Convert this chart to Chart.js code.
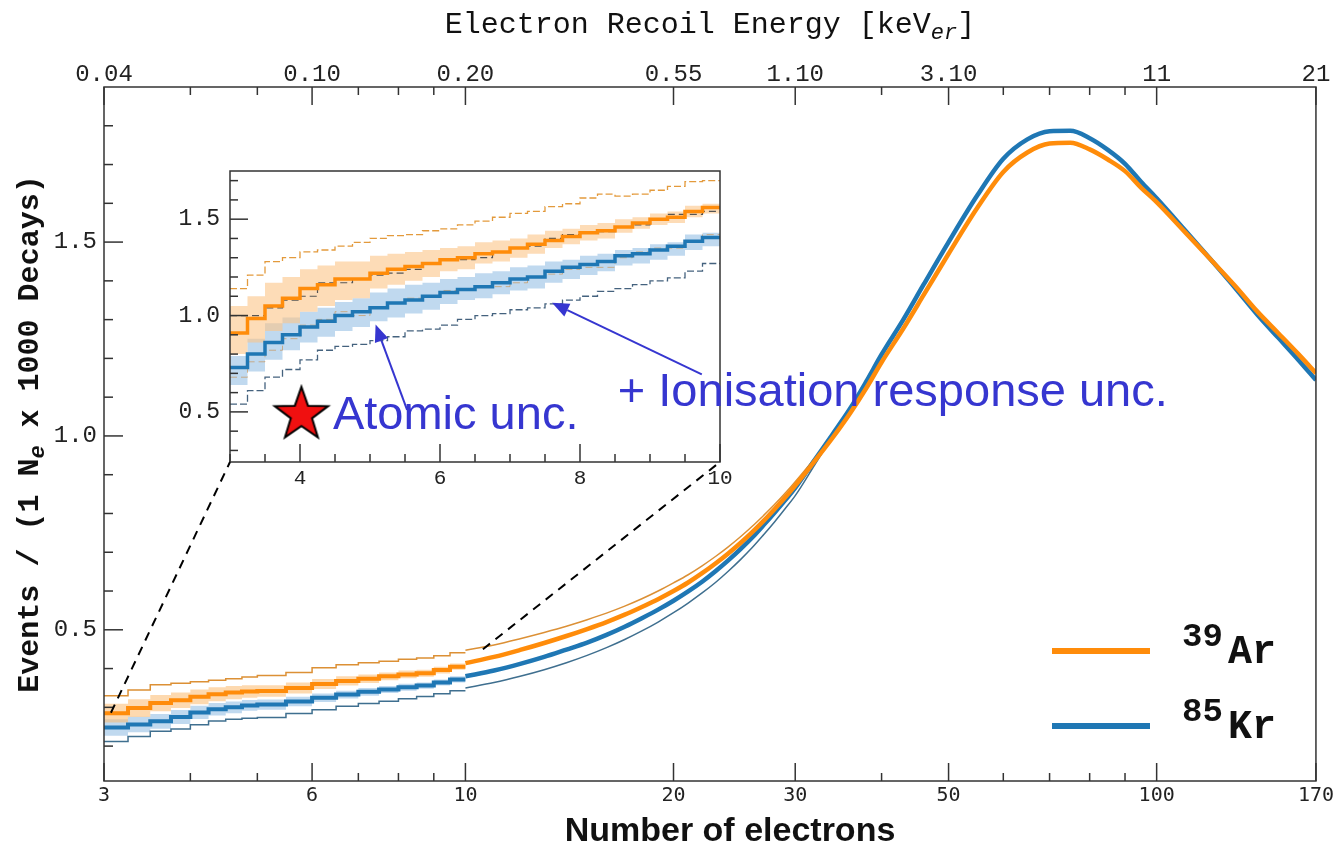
<!DOCTYPE html>
<html>
<head>
<meta charset="utf-8">
<script src="https://cdn.jsdelivr.net/npm/chart.js@4/dist/chart.umd.min.js"></script>
<style>
  body { margin: 0; background: #fff; }
  #wrap { position: relative; width: 1339px; height: 851px; }
  #wrap canvas { position: absolute; left: 0; top: 0; }
</style>
</head>
<body>
<div id="wrap">
  <canvas id="main" width="1339" height="851"></canvas>
  <canvas id="inset" width="1339" height="851"></canvas>
</div>
<script>
// axis ticks
const neMajor = [3, 6, 10, 20, 30, 50, 100, 170];
const neTicks = [3, 4, 5, 6, 7, 8, 9, 10, 20, 30, 40, 50, 60, 70, 80, 90, 100, 170];
const energyLabels = ['0.04', '0.10', '0.20', '0.55', '1.10', '3.10', '11', '21'];
const yMajor = [0.5, 1.0, 1.5];
const insetXMajor = [4, 6, 8, 10];

// main plot, 3-10 electrons: bin left edges (last value = right edge of last bin)
const lowEdges = [3, 3.25, 3.5, 3.75, 4, 4.25, 4.5, 4.75, 5, 5.5, 6, 6.5, 7, 7.5, 8, 8.5, 9, 9.5, 10];
const arLow = [0.285, 0.298, 0.311, 0.318, 0.327, 0.334, 0.338, 0.341, 0.342, 0.350, 0.360, 0.368, 0.374, 0.380, 0.385, 0.388, 0.396, 0.405];
const krLow = [0.248, 0.256, 0.264, 0.275, 0.287, 0.295, 0.300, 0.305, 0.307, 0.315, 0.325, 0.333, 0.340, 0.346, 0.352, 0.356, 0.364, 0.372];
const arOuterLow = [0.330, 0.345, 0.358, 0.362, 0.366, 0.370, 0.374, 0.378, 0.382, 0.390, 0.402, 0.410, 0.415, 0.419, 0.424, 0.427, 0.433, 0.441];
const krOuterLow = [0.212, 0.225, 0.238, 0.244, 0.255, 0.265, 0.269, 0.272, 0.274, 0.284, 0.294, 0.303, 0.310, 0.316, 0.322, 0.328, 0.335, 0.343];
const arBandHalf = [0.024, 0.023, 0.021, 0.020, 0.019, 0.018, 0.017, 0.016, 0.015, 0.014, 0.013, 0.012, 0.011, 0.010, 0.010, 0.009, 0.009, 0.008];
const krBandHalf = [0.021, 0.020, 0.019, 0.018, 0.017, 0.016, 0.015, 0.014, 0.013, 0.012, 0.011, 0.010, 0.010, 0.009, 0.009, 0.008, 0.008, 0.008];

// main plot, 10-170 electrons
const curveNe = [10, 11, 12, 13, 14, 15, 16, 17, 18, 19, 20, 21, 22, 23, 24, 25, 26, 27, 28, 29, 30,
  32, 34, 36, 38, 40, 43, 46, 50, 55, 60, 65, 70, 75, 80, 85, 90, 95, 100, 110, 120, 130, 140, 150, 160, 170];
const arCurve = [0.414, 0.430, 0.448, 0.466, 0.484, 0.502, 0.520, 0.539, 0.559, 0.579, 0.600, 0.622, 0.646, 0.671, 0.697, 0.724, 0.752, 0.781, 0.811, 0.841, 0.872,
  0.935, 0.996, 1.058, 1.123, 1.190, 1.277, 1.363, 1.470, 1.588, 1.681, 1.731, 1.754, 1.756, 1.739, 1.713, 1.683, 1.640, 1.603, 1.525, 1.453, 1.386, 1.320, 1.265, 1.213, 1.162];
const krCurve = [0.380, 0.395, 0.412, 0.430, 0.449, 0.467, 0.487, 0.508, 0.530, 0.552, 0.575, 0.599, 0.624, 0.651, 0.679, 0.708, 0.738, 0.770, 0.802, 0.834, 0.866,
  0.938, 1.005, 1.070, 1.140, 1.210, 1.300, 1.390, 1.500, 1.620, 1.715, 1.765, 1.786, 1.787, 1.768, 1.738, 1.702, 1.655, 1.613, 1.530, 1.453, 1.381, 1.312, 1.253, 1.198, 1.144];
const outerNe = [10, 11, 12, 13, 14, 15, 16, 17, 18, 19, 20, 21, 22, 23, 24, 25, 26, 27, 28, 29, 30, 32, 34];
const arOuterMid = [0.447, 0.461, 0.477, 0.493, 0.509, 0.526, 0.543, 0.561, 0.580, 0.600, 0.621, 0.642, 0.665, 0.689, 0.714, 0.740, 0.767, 0.795, 0.823, 0.852, 0.882, 0.942, 1.000];
const krOuterMid = [0.350, 0.364, 0.380, 0.397, 0.415, 0.434, 0.454, 0.475, 0.497, 0.520, 0.544, 0.569, 0.595, 0.622, 0.651, 0.681, 0.712, 0.745, 0.778, 0.812, 0.846, 0.925, 1.000];

// inset (3 - 10 electrons)
const insetEdges = [3, 3.25, 3.5, 3.75, 4, 4.25, 4.5, 4.75, 5, 5.25, 5.5, 5.75, 6, 6.25, 6.5, 6.75, 7, 7.25, 7.5, 7.75,
  8, 8.25, 8.5, 8.75, 9, 9.25, 9.5, 9.75, 10];
const insetAr = [0.91, 0.985, 1.05, 1.09, 1.14, 1.16, 1.19, 1.19, 1.22, 1.24, 1.255, 1.27, 1.29, 1.30, 1.32, 1.33,
  1.35, 1.37, 1.39, 1.41, 1.43, 1.44, 1.46, 1.48, 1.50, 1.51, 1.54, 1.56];
const insetKr = [0.73, 0.80, 0.86, 0.90, 0.94, 0.97, 1.00, 1.02, 1.04, 1.065, 1.08, 1.10, 1.12, 1.135, 1.15, 1.17,
  1.19, 1.20, 1.23, 1.25, 1.265, 1.28, 1.31, 1.32, 1.34, 1.36, 1.385, 1.405];
const insetArBandHi = [1.05, 1.10, 1.17, 1.20, 1.24, 1.26, 1.28, 1.28, 1.31, 1.32, 1.33, 1.34, 1.35, 1.36, 1.38, 1.39,
  1.40, 1.42, 1.44, 1.45, 1.47, 1.48, 1.50, 1.51, 1.53, 1.54, 1.57, 1.58];
const insetArBandLo = [0.80, 0.86, 0.92, 0.96, 1.02, 1.05, 1.08, 1.09, 1.14, 1.16, 1.18, 1.20, 1.23, 1.24, 1.27, 1.28,
  1.30, 1.32, 1.35, 1.37, 1.39, 1.40, 1.43, 1.45, 1.47, 1.48, 1.51, 1.53];
const insetKrBandHi = [0.79, 0.88, 0.96, 0.99, 1.02, 1.04, 1.07, 1.09, 1.12, 1.14, 1.16, 1.17, 1.19, 1.20, 1.22, 1.23,
  1.25, 1.26, 1.28, 1.29, 1.31, 1.32, 1.34, 1.35, 1.37, 1.38, 1.42, 1.43];
const insetKrBandLo = [0.64, 0.71, 0.77, 0.82, 0.86, 0.89, 0.92, 0.94, 0.97, 0.99, 1.01, 1.03, 1.06, 1.08, 1.09, 1.11,
  1.13, 1.14, 1.17, 1.19, 1.21, 1.23, 1.26, 1.27, 1.29, 1.31, 1.34, 1.36];
const insetArOuterHi = [1.14, 1.21, 1.28, 1.30, 1.33, 1.34, 1.36, 1.38, 1.40, 1.415, 1.42, 1.44, 1.45, 1.47, 1.49, 1.51,
  1.53, 1.54, 1.565, 1.58, 1.61, 1.63, 1.62, 1.63, 1.65, 1.67, 1.695, 1.70];
const insetArOuterLo = [0.68, 0.76, 0.82, 0.88, 0.95, 0.98, 1.02, 1.00, 1.04, 1.065, 1.09, 1.10, 1.13, 1.13, 1.15, 1.15,
  1.17, 1.20, 1.215, 1.24, 1.25, 1.25, 1.30, 1.33, 1.35, 1.35, 1.385, 1.42];
const insetKrOuterHi = [1.00, 1.00, 1.04, 1.08, 1.10, 1.17, 1.17, 1.19, 1.21, 1.22, 1.24, 1.27, 1.29, 1.29, 1.30, 1.33,
  1.35, 1.36, 1.40, 1.42, 1.43, 1.435, 1.46, 1.47, 1.50, 1.525, 1.525, 1.54];
const insetKrOuterLo = [0.54, 0.61, 0.68, 0.72, 0.77, 0.82, 0.84, 0.85, 0.87, 0.89, 0.92, 0.93, 0.95, 0.98, 1.00, 1.01,
  1.03, 1.04, 1.06, 1.08, 1.10, 1.125, 1.14, 1.16, 1.18, 1.195, 1.23, 1.27];

// annotations (data coordinates)
const starPoint = [4.02, 0.485];
const atomicArrow = [[5.53, 0.51], [5.08, 0.953]];
const ionArrow = [[9.74, 0.695], [7.6, 1.066]];
const atomicText = [4.47, 0.41];
const ionText = [8.54, 0.53];
const zoomFrom = [[3.07, 0.286], [10.6, 0.45]];

const ORANGE = '#ff8c0a';
const BLUE = '#1f77b4';
const NOTE = '#3636d0';
const MONO = '"Liberation Mono", "Courier New", monospace';

function steps(edges, vals) {
  const pts = vals.map((v, i) => ({ x: edges[i], y: v }));
  pts.push({ x: edges[vals.length], y: vals[vals.length - 1] });
  return pts;
}
function shifted(vals, half, sign) {
  return vals.map((v, i) => v + sign * half[i]);
}
function points(xs, ys) {
  return ys.map((v, i) => ({ x: xs[i], y: v }));
}
function line(ctx, x1, y1, x2, y2) {
  ctx.beginPath(); ctx.moveTo(x1, y1); ctx.lineTo(x2, y2); ctx.stroke();
}
function runs(ctx, parts, x, y) {
  let total = 0;
  parts.forEach(p => { ctx.font = p.font; p.w = ctx.measureText(p.text).width; total += p.w; });
  let cx = x - total / 2;
  parts.forEach(p => { ctx.font = p.font; ctx.fillText(p.text, cx, y + (p.dy || 0)); cx += p.w; });
}
function arrow(ctx, x1, y1, x2, y2) {
  const ang = Math.atan2(y2 - y1, x2 - x1), L = 17, W = 7;
  const bx = x2 - L * Math.cos(ang), by = y2 - L * Math.sin(ang);
  ctx.lineWidth = 2;
  line(ctx, x1, y1, bx, by);
  ctx.beginPath();
  ctx.moveTo(x2, y2);
  ctx.lineTo(bx + W * Math.sin(ang), by - W * Math.cos(ang));
  ctx.lineTo(bx - W * Math.sin(ang), by + W * Math.cos(ang));
  ctx.closePath();
  ctx.fill();
}
function makeStar(r) {
  const c = document.createElement('canvas');
  const s = Math.ceil(r * 2 + 6);
  c.width = s; c.height = s;
  const g = c.getContext('2d');
  g.beginPath();
  for (let i = 0; i < 10; i++) {
    const rad = i % 2 === 0 ? r : r * 0.4;
    const a = -Math.PI / 2 + i * Math.PI / 5;
    const px = s / 2 + rad * Math.cos(a), py = s / 2 + rad * Math.sin(a);
    if (i === 0) g.moveTo(px, py); else g.lineTo(px, py);
  }
  g.closePath();
  g.fillStyle = '#f01010'; g.fill();
  g.lineWidth = 2; g.strokeStyle = '#000'; g.stroke();
  return c;
}

const stepLine = (label, data, color, width, extra) => Object.assign({
  label, data, borderColor: color, borderWidth: width, stepped: true, pointRadius: 0, fill: false
}, extra || {});
const smoothLine = (label, data, color, width) => ({
  label, data, borderColor: color, borderWidth: width, pointRadius: 0, cubicInterpolationMode: 'monotone', fill: false
});

// ---------- main chart ----------
const mainDecor = {
  id: 'mainDecor',
  afterDraw(chart) {
    const { ctx, chartArea: a, scales } = chart;
    ctx.save();
    ctx.strokeStyle = '#333';
    ctx.lineWidth = 1.5;
    scales.x.ticks.forEach(t => {
      const px = scales.x.getPixelForValue(t.value);
      const len = neMajor.includes(t.value) ? 18 : 8;
      line(ctx, px, a.bottom, px, a.bottom - len);
      line(ctx, px, a.top, px, a.top + len);
    });
    scales.y.ticks.forEach(t => {
      const py = scales.y.getPixelForValue(t.value);
      const len = yMajor.some(m => Math.abs(m - t.value) < 1e-6) ? 19 : 9;
      line(ctx, a.left, py, a.left + len, py);
    });
    ctx.strokeRect(a.left, a.top, a.right - a.left, a.bottom - a.top);

    ctx.fillStyle = '#111';
    ctx.textAlign = 'left';
    ctx.textBaseline = 'alphabetic';
    // top title
    runs(ctx, [
      { text: 'Electron Recoil Energy [keV', font: '30px ' + MONO },
      { text: 'er', font: 'italic 22px ' + MONO, dy: 6 },
      { text: ']', font: '30px ' + MONO }
    ], (a.left + a.right) / 2, 33);
    // y title
    ctx.save();
    ctx.translate(28, (a.top + a.bottom) / 2);
    ctx.rotate(-Math.PI / 2);
    runs(ctx, [
      { text: 'Events / (1 N', font: 'bold 30px ' + MONO },
      { text: 'e', font: 'italic bold 22px ' + MONO, dy: 6 },
      { text: ' x 1000 Decays)', font: 'bold 30px ' + MONO }
    ], 0, 10);
    ctx.restore();
    // x title
    ctx.font = 'bold 34px "Liberation Sans", Arial, sans-serif';
    ctx.textAlign = 'center';
    ctx.fillText('Number of electrons', 730, 841);

    // legend
    const legend = [
      { sup: '39', name: 'Ar', color: ORANGE, y: 651 },
      { sup: '85', name: 'Kr', color: BLUE, y: 726 }
    ];
    ctx.textAlign = 'left';
    legend.forEach(l => {
      ctx.strokeStyle = l.color;
      ctx.lineWidth = 6;
      line(ctx, 1052, l.y, 1150, l.y);
      ctx.fillStyle = '#111';
      ctx.font = 'bold 34px ' + MONO;
      ctx.fillText(l.sup, 1182, l.y - 5);
      ctx.font = 'bold 40px ' + MONO;
      ctx.fillText(l.name, 1228, l.y + 12);
    });
    ctx.restore();
  }
};

const mainChart = new Chart(document.getElementById('main'), {
  type: 'line',
  data: {
    datasets: [
      stepLine('Ar', steps(lowEdges, arLow), ORANGE, 4),
      stepLine('Kr', steps(lowEdges, krLow), BLUE, 4),
      smoothLine('Ar curve', points(curveNe, arCurve), ORANGE, 4.5),
      smoothLine('Kr curve', points(curveNe, krCurve), BLUE, 4.5),
      stepLine('Ar ionisation', steps(lowEdges, arOuterLow), '#dc9035', 1.5),
      stepLine('Kr ionisation', steps(lowEdges, krOuterLow), '#3f6f8f', 1.5),
      smoothLine('Ar ionisation mid', points(outerNe, arOuterMid), '#dc9035', 1.5),
      smoothLine('Kr ionisation mid', points(outerNe, krOuterMid), '#3f6f8f', 1.5),
      stepLine('Ar atomic hi', steps(lowEdges, shifted(arLow, arBandHalf, 1)), 'rgba(0,0,0,0)', 0, { fill: '+1', backgroundColor: 'rgba(252,186,110,0.55)' }),
      stepLine('Ar atomic lo', steps(lowEdges, shifted(arLow, arBandHalf, -1)), 'rgba(0,0,0,0)', 0),
      stepLine('Kr atomic hi', steps(lowEdges, shifted(krLow, krBandHalf, 1)), 'rgba(0,0,0,0)', 0, { fill: '+1', backgroundColor: 'rgba(140,186,226,0.55)' }),
      stepLine('Kr atomic lo', steps(lowEdges, shifted(krLow, krBandHalf, -1)), 'rgba(0,0,0,0)', 0)
    ]
  },
  options: {
    responsive: false,
    animation: false,
    devicePixelRatio: 1,
    events: [],
    layout: { padding: { right: 21 } },
    plugins: { legend: { display: false }, tooltip: { enabled: false } },
    scales: {
      x: {
        type: 'logarithmic', position: 'bottom', min: 3, max: 170,
        afterBuildTicks: s => { s.ticks = neTicks.map(v => ({ value: v })); },
        afterFit: s => { s.height = 70; },
        grid: { display: false, drawTicks: false },
        border: { display: false },
        ticks: {
          autoSkip: false, maxRotation: 0, padding: 5, color: '#222',
          font: { family: '"DejaVu Sans Mono", monospace', size: 20, lineHeight: 1 },
          callback: v => neMajor.includes(v) ? String(v) : ''
        }
      },
      x2: {
        type: 'logarithmic', position: 'top', min: 3, max: 170,
        afterBuildTicks: s => { s.ticks = neTicks.map(v => ({ value: v })); },
        afterFit: s => { s.height = 87; },
        grid: { display: false, drawTicks: false },
        border: { display: false },
        ticks: {
          autoSkip: false, maxRotation: 0, padding: 0, color: '#222',
          font: { family: MONO, size: 24, lineHeight: 1 },
          callback: v => { const i = neMajor.indexOf(v); return i < 0 ? '' : energyLabels[i]; }
        }
      },
      y: {
        type: 'linear', min: 0.11, max: 1.9,
        afterBuildTicks: s => {
          const t = [];
          for (let i = 2; i <= 18; i++) t.push({ value: i / 10 });
          s.ticks = t;
        },
        afterFit: s => { s.width = 104; },
        grid: { display: false, drawTicks: false },
        border: { display: false },
        ticks: {
          autoSkip: false, padding: 7, color: '#222',
          font: { family: MONO, size: 24, lineHeight: 1 },
          callback: v => yMajor.some(m => Math.abs(m - v) < 1e-6) ? v.toFixed(1) : ''
        }
      }
    }
  },
  plugins: [mainDecor]
});

// ---------- inset ----------
const insetDecor = {
  id: 'insetDecor',
  beforeDraw(chart) {
    const { ctx, chartArea: a } = chart;
    ctx.save();
    ctx.fillStyle = '#fff';
    ctx.fillRect(a.left, a.top, a.right - a.left, a.bottom - a.top);
    ctx.restore();
  },
  afterDraw(chart) {
    const { ctx, chartArea: a, scales: { x, y } } = chart;
    ctx.save();
    ctx.strokeStyle = '#333';
    ctx.lineWidth = 1.5;
    x.ticks.forEach(t => {
      const px = x.getPixelForValue(t.value);
      line(ctx, px, a.bottom, px, a.bottom - (insetXMajor.includes(t.value) ? 18 : 8));
    });
    y.ticks.forEach(t => {
      const py = y.getPixelForValue(t.value);
      const len = yMajor.some(m => Math.abs(m - t.value) < 1e-6) ? 18 : 8;
      line(ctx, a.left, py, a.left + len, py);
    });
    ctx.strokeRect(a.left, a.top, a.right - a.left, a.bottom - a.top);

    // zoom connectors to the main plot
    const mx = mainChart.scales.x, my = mainChart.scales.y;
    ctx.strokeStyle = '#000';
    ctx.lineWidth = 2;
    ctx.setLineDash([9, 7]);
    line(ctx, mx.getPixelForValue(zoomFrom[0][0]), my.getPixelForValue(zoomFrom[0][1]), a.left, a.bottom);
    line(ctx, mx.getPixelForValue(zoomFrom[1][0]), my.getPixelForValue(zoomFrom[1][1]), a.right, a.bottom);
    ctx.setLineDash([]);

    // arrows and notes
    ctx.strokeStyle = NOTE;
    ctx.fillStyle = NOTE;
    [atomicArrow, ionArrow].forEach(ar => {
      arrow(ctx, x.getPixelForValue(ar[0][0]), y.getPixelForValue(ar[0][1]),
        x.getPixelForValue(ar[1][0]), y.getPixelForValue(ar[1][1]));
    });
    ctx.font = '47px "Liberation Sans", Arial, sans-serif';
    ctx.textAlign = 'left';
    ctx.textBaseline = 'alphabetic';
    ctx.fillText('Atomic unc.', x.getPixelForValue(atomicText[0]), y.getPixelForValue(atomicText[1]));
    ctx.fillText('+ Ionisation response unc.', x.getPixelForValue(ionText[0]), y.getPixelForValue(ionText[1]));
    ctx.restore();
  }
};

const insetChart = new Chart(document.getElementById('inset'), {
  type: 'line',
  data: {
    datasets: [
      { label: 'star', data: [{ x: starPoint[0], y: starPoint[1] }], showLine: false, pointStyle: makeStar(28), pointRadius: 28 },
      stepLine('Ar', steps(insetEdges, insetAr), ORANGE, 3.5),
      stepLine('Kr', steps(insetEdges, insetKr), BLUE, 3.5),
      stepLine('Ar ion hi', steps(insetEdges, insetArOuterHi), '#e39a3c', 1.3, { borderDash: [7, 3] }),
      stepLine('Kr ion lo', steps(insetEdges, insetKrOuterLo), '#44627e', 1.3, { borderDash: [7, 3] }),
      stepLine('Kr ion hi', steps(insetEdges, insetKrOuterHi), '#555', 1.2, { borderDash: [7, 4] }),
      stepLine('Ar ion lo', steps(insetEdges, insetArOuterLo), 'rgba(200,140,70,0.6)', 1.0, { borderDash: [7, 4] }),
      stepLine('Ar atomic hi', steps(insetEdges, insetArBandHi), 'rgba(0,0,0,0)', 0, { fill: '+1', backgroundColor: 'rgba(252,196,135,0.6)' }),
      stepLine('Ar atomic lo', steps(insetEdges, insetArBandLo), 'rgba(0,0,0,0)', 0),
      stepLine('Kr atomic hi', steps(insetEdges, insetKrBandHi), 'rgba(0,0,0,0)', 0, { fill: '+1', backgroundColor: 'rgba(140,186,226,0.55)' }),
      stepLine('Kr atomic lo', steps(insetEdges, insetKrBandLo), 'rgba(0,0,0,0)', 0)
    ]
  },
  options: {
    responsive: false,
    animation: false,
    devicePixelRatio: 1,
    events: [],
    layout: { padding: { top: 171, right: 619, left: 0, bottom: 0 } },
    plugins: { legend: { display: false }, tooltip: { enabled: false } },
    scales: {
      x: {
        type: 'linear', min: 3, max: 10,
        afterBuildTicks: s => {
          const t = [];
          for (let i = 6; i <= 20; i++) t.push({ value: i / 2 });
          s.ticks = t;
        },
        afterFit: s => { s.height = 389; },
        grid: { display: false, drawTicks: false },
        border: { display: false },
        ticks: {
          autoSkip: false, maxRotation: 0, padding: 6, color: '#222',
          font: { family: MONO, size: 21, lineHeight: 1 },
          callback: v => insetXMajor.includes(v) ? String(v) : ''
        }
      },
      y: {
        type: 'linear', min: 0.24, max: 1.75,
        afterBuildTicks: s => {
          const t = [];
          for (let i = 3; i <= 17; i++) t.push({ value: i / 10 });
          s.ticks = t;
        },
        afterFit: s => { s.width = 230; },
        grid: { display: false, drawTicks: false },
        border: { display: false },
        ticks: {
          autoSkip: false, padding: 10, color: '#222',
          font: { family: MONO, size: 23, lineHeight: 1 },
          callback: v => yMajor.some(m => Math.abs(m - v) < 1e-6) ? v.toFixed(1) : ''
        }
      }
    }
  },
  plugins: [insetDecor]
});
</script>
</body>
</html>
